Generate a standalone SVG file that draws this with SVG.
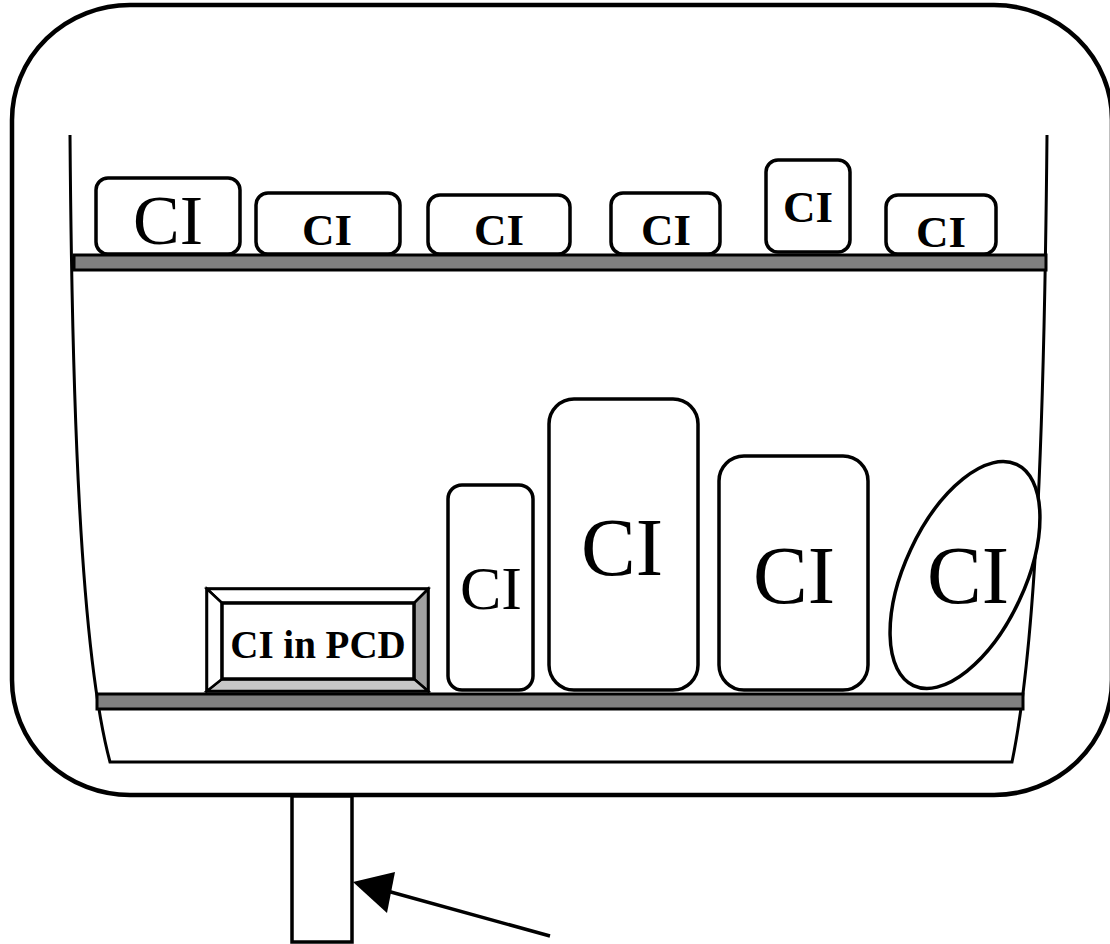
<svg xmlns="http://www.w3.org/2000/svg" width="1110" height="944" viewBox="0 0 1110 944">
<style>
.ln{fill:none;stroke:#000;stroke-width:3}
.box{fill:#fff;stroke:#000;stroke-width:3.5}
.shelf{fill:#808080;stroke:#000;stroke-width:3}
.t{font-family:"Liberation Serif","Times New Roman",serif;fill:#000;text-anchor:middle}
.b{font-weight:bold}
</style>
<rect width="1110" height="944" fill="#fff"/>
<g id="cabinet">
<rect x="12" y="5" width="1100" height="790" rx="118" ry="115" fill="#fff" stroke="#000" stroke-width="4.5"/>
<path class="ln" d="M70,135 C72,400 80,650 110,762 L1012,762 C1035,650 1044,450 1047,135"/>
</g>
<g id="stand">
<rect x="292" y="796" width="60" height="146" fill="#fff" stroke="#000" stroke-width="3.5"/>
</g>
<g id="shelves">
<rect class="shelf" x="74" y="255" width="972" height="15"/>
<rect class="shelf" x="97" y="694" width="926" height="15"/>
</g>
<g id="top1"><rect class="box" x="96" y="178" width="144" height="76" rx="12"/><text class="t" x="168" y="244" font-size="70">CI</text></g>
<g id="top2"><rect class="box" x="256" y="193" width="144" height="61" rx="12"/><text class="t b" x="327" y="245" font-size="45">CI</text></g>
<g id="top3"><rect class="box" x="428" y="195" width="142" height="59" rx="12"/><text class="t b" x="499" y="245" font-size="45">CI</text></g>
<g id="top4"><rect class="box" x="611" y="193" width="109" height="61" rx="12"/><text class="t b" x="666" y="245" font-size="45">CI</text></g>
<g id="top5"><rect class="box" x="766" y="160" width="84" height="92" rx="12"/><text class="t b" x="808" y="222" font-size="45">CI</text></g>
<g id="top6"><rect class="box" x="886" y="195" width="110" height="59" rx="12"/><text class="t b" x="941" y="247" font-size="45">CI</text></g>
<g id="pcd">
<rect x="207" y="589" width="221" height="102" fill="#fff" stroke="#000" stroke-width="3.5"/>
<polygon points="414,603 428,589 428,691 414,679" fill="#a0a0a0" stroke="#000" stroke-width="2.5"/>
<polygon points="222,679 414,679 428,691 207,691" fill="#c8c8c8" stroke="#000" stroke-width="2.5"/>
<polygon points="207,589 428,589 414,603 222,603" fill="#fff" stroke="#000" stroke-width="2.5"/>
<polygon points="207,589 222,603 222,679 207,691" fill="#fff" stroke="#000" stroke-width="2.5"/>
<rect x="222" y="603" width="192" height="76" fill="#fff" stroke="#000" stroke-width="3.5"/>
<text class="t b" x="318" y="658" font-size="39">CI in PCD</text>
</g>
<g id="b1"><rect class="box" x="448" y="485" width="85" height="205" rx="14"/><text class="t" x="491" y="609" font-size="62">CI</text></g>
<g id="b2"><rect class="box" x="549" y="399" width="149" height="291" rx="25"/><text class="t" x="622" y="575" font-size="82">CI</text></g>
<g id="b3"><rect class="box" x="719" y="456" width="149" height="234" rx="25"/><text class="t" x="794" y="603" font-size="82">CI</text></g>
<g id="b4"><ellipse class="box" cx="965" cy="575" rx="60" ry="122" transform="rotate(25 965 575)"/><text class="t" x="968" y="603" font-size="82">CI</text></g>
<g id="connectors">
<line x1="550" y1="936" x2="380" y2="889" stroke="#000" stroke-width="3.5"/>
<path d="M353,882 L395,872 L387,913 Z" fill="#000"/>
</g>
</svg>
